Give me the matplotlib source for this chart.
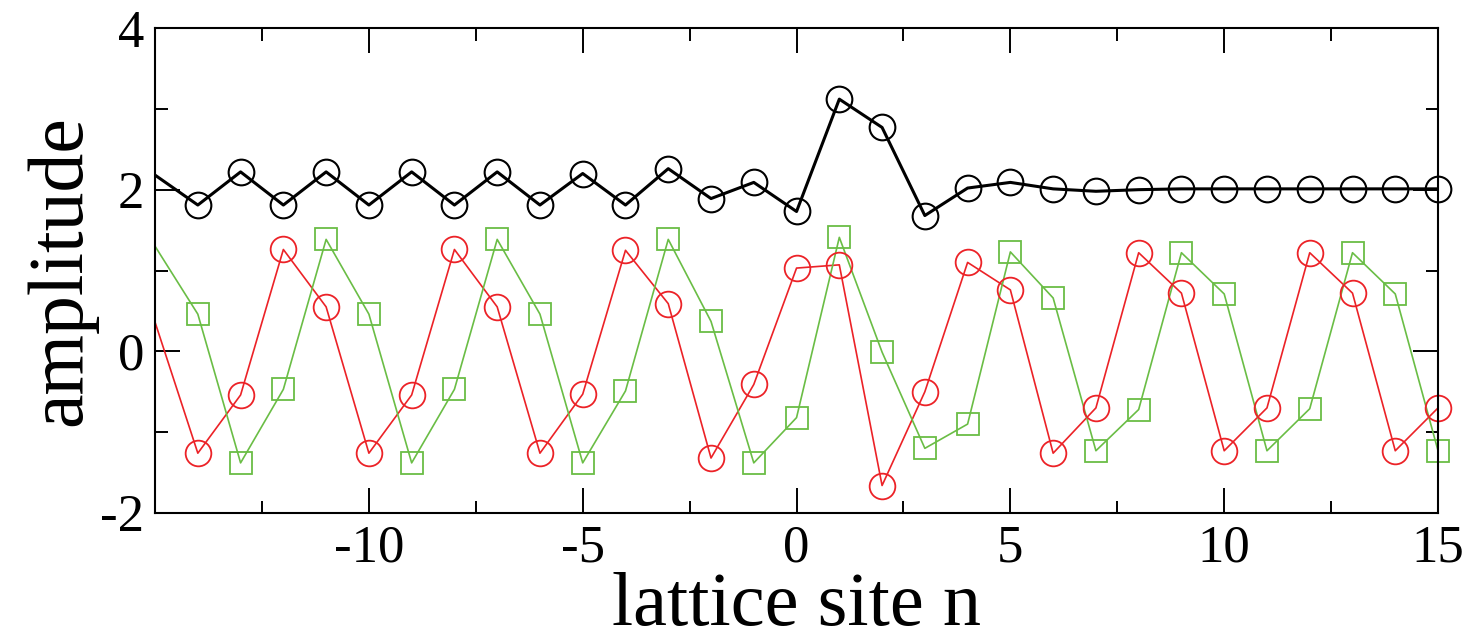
import numpy as np
import matplotlib
matplotlib.use('Agg')
import matplotlib.pyplot as plt
from matplotlib.ticker import MultipleLocator

plt.rcParams['font.family'] = ['Liberation Serif', 'DejaVu Serif']
plt.rcParams['axes.unicode_minus'] = False

# lattice sites, line data starts at -15, markers from -14
sites = np.arange(-15, 16)
black_amp = [2.18, 1.81, 2.22, 1.81, 2.22, 1.81, 2.22, 1.81, 2.22, 1.81, 2.20, 1.81, 2.26, 1.89, 2.09,
             1.73,
             3.12, 2.77, 1.68, 2.02, 2.09, 2.01, 1.98, 2.00, 2.01, 2.01, 2.01, 2.01, 2.01, 2.01, 2.01]
red_amp = [0.36, -1.26, -0.54, 1.26, 0.55, -1.26, -0.54, 1.26, 0.55, -1.26, -0.53, 1.25, 0.59, -1.32, -0.41,
           1.03,
           1.07, -1.66, -0.50, 1.10, 0.76, -1.26, -0.70, 1.22, 0.72, -1.23, -0.70, 1.22, 0.72, -1.23, -0.70]
green_amp = [1.30, 0.46, -1.38, -0.47, 1.385, 0.46, -1.38, -0.47, 1.385, 0.46, -1.38, -0.49, 1.385, 0.37, -1.38,
             -0.82,
             1.41, -0.01, -1.20, -0.90, 1.23, 0.66, -1.23, -0.72, 1.22, 0.71, -1.23, -0.71, 1.22, 0.71, -1.23]

xticks = [-10, -5, 0, 5, 10, 15]
yticks = [-2, 0, 2, 4]

red = '#ec2227'
green = '#6abd45'

fig = plt.figure(figsize=(14.74, 6.41), dpi=100)
ax = fig.add_axes([0.1052, 0.1997, 0.8704, 0.7566])

# lines
ax.plot(sites, red_amp, color=red, lw=1.2)
ax.plot(sites, green_amp, color=green, lw=1.2)
ax.plot(sites, black_amp, color='black', lw=2.2)

# markers
ax.plot(sites[1:], red_amp[1:], ls='none', marker='o', ms=18.5, mfc='none', mec=red, mew=1.3, clip_on=False)
ax.plot(sites[1:], green_amp[1:], ls='none', marker='s', ms=15.5, mfc='none', mec=green, mew=1.3, clip_on=False)
ax.plot(sites[1:], black_amp[1:], ls='none', marker='o', ms=18.5, mfc='none', mec='black', mew=1.5, clip_on=False)

ax.set_xlim(-15, 15)
ax.set_ylim(-2, 4)
ax.set_xticks(xticks)
ax.set_yticks(yticks)
ax.xaxis.set_minor_locator(MultipleLocator(2.5))
ax.yaxis.set_minor_locator(MultipleLocator(1))
ax.tick_params(which='both', direction='in', top=True, right=True, width=1.4, labelsize=38)
ax.tick_params(which='major', length=18)
ax.tick_params(which='minor', length=9)
ax.tick_params(axis='x', pad=8)
ax.tick_params(axis='y', pad=8)
for s in ax.spines.values():
    s.set_linewidth(1.5)

ax.set_xlabel('lattice site n', fontsize=55, labelpad=0)
ax.set_ylabel('amplitude', fontsize=56, labelpad=2)

fig.savefig('out.png', dpi=100)
